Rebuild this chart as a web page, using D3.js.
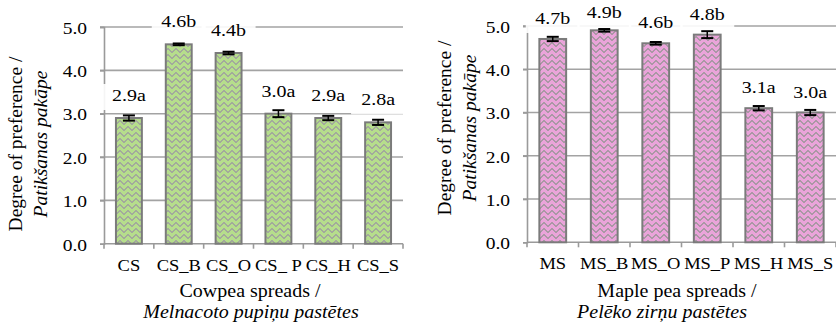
<!DOCTYPE html>
<html>
<head>
<meta charset="utf-8">
<script src="https://cdn.jsdelivr.net/npm/d3@7"></script>
<style>
  html, body { margin: 0; padding: 0; background: #fff; }
  svg text { font-family: "Liberation Serif", "DejaVu Serif", serif; }
</style>
</head>
<body>
<svg id="chart" width="836" height="324"></svg>
<script>
// Cowpea spreads
const cowpeaCategories = ["CS", "CS_B", "CS_O", "CS_ P", "CS_H", "CS_S"];
const cowpeaValues = [2.9, 4.6, 4.4, 3.0, 2.9, 2.8];
const cowpeaErrors = [0.06, 0.02, 0.03, 0.08, 0.05, 0.06];
const cowpeaLetters = ["a", "b", "b", "a", "a", "a"];

// Maple pea spreads
const mapleCategories = ["MS", "MS_B", "MS_O", "MS_P", "MS_H", "MS_S"];
const mapleValues = [4.7, 4.9, 4.6, 4.8, 3.1, 3.0];
const mapleErrors = [0.05, 0.03, 0.03, 0.08, 0.05, 0.06];
const mapleLetters = ["b", "b", "b", "b", "a", "a"];

const yTicks = [0, 1, 2, 3, 4, 5];

const FONT = "Liberation Serif, DejaVu Serif, serif";
const svg = d3.select("#chart").style("font-family", FONT);
const defs = svg.append("defs");

// horizontal text is set slightly condensed in height
function hText(sel, x, y, size, sy, str) {
  return sel.append("text")
    .attr("transform", `translate(${x},${y}) scale(1,${sy})`)
    .attr("font-size", size)
    .attr("text-anchor", "middle")
    .text(str);
}

// pixel zig-zag hatch fill used by the bars
function zigzag(id, bg, ink) {
  const w = 8, h = 6;
  const p = defs.append("pattern")
    .attr("id", id)
    .attr("patternUnits", "userSpaceOnUse")
    .attr("width", w).attr("height", h);
  p.append("rect").attr("width", w).attr("height", h).attr("fill", bg);
  const cells = [];
  for (let c = 0; c < w; c++) {
    const r = c < 4 ? c : 7 - c;
    cells.push([c, r], [c, (r + 1) % h]);
  }
  p.selectAll("rect.px").data(cells).join("rect")
    .attr("class", "px")
    .attr("x", d => d[0]).attr("y", d => d[1])
    .attr("width", 1).attr("height", 1)
    .attr("fill", ink)
    .attr("shape-rendering", "crispEdges");
}
zigzag("hatchGreen", "#b6de8c", "#a3aa9c");
zigzag("hatchPink", "#eaa4da", "#aa98a5");

function drawPanel(cfg) {
  const { categories, values, errors, letters, left, right, top, bottom, fill,
          titleX, titleLines, yTitleY, yTitleX, labelGap } = cfg;
  const g = svg.append("g");

  const x = d3.scaleBand().domain(categories).range([left, right]).paddingInner(0.48).paddingOuter(0.24);
  const xEdge = d3.scaleLinear().domain([0, categories.length]).range([left, right]);
  const y = d3.scaleLinear().domain([0, 5]).range([bottom, top]);

  // horizontal gridlines
  g.append("g").selectAll("line").data(yTicks.filter(t => t > 0)).join("line")
    .attr("x1", left - 4).attr("x2", right)
    .attr("y1", d => y(d)).attr("y2", d => y(d))
    .attr("stroke", "#a3a3a3").attr("stroke-width", 1.6);

  // y axis with labels
  const sy = 0.84;
  const yAxis = d3.axisLeft(y).tickValues(yTicks).tickFormat(d3.format(".1f")).tickSize(4).tickPadding(13);
  const ya = g.append("g").attr("transform", `translate(${left},0)`).call(yAxis);
  ya.attr("font-family", null).style("font-family", FONT);
  ya.select(".domain").attr("stroke", "#9a9a9a").attr("stroke-width", 1.6);
  ya.selectAll(".tick line").attr("stroke", "#9a9a9a").attr("stroke-width", 1.6);
  ya.selectAll(".tick text").attr("fill", "#000").attr("font-size", 19.5)
    .attr("dy", null).attr("y", 6.3 / sy).attr("transform", `scale(1,${sy})`);

  // x axis: category boundary ticks
  g.append("line").attr("x1", left).attr("x2", right).attr("y1", bottom).attr("y2", bottom)
    .attr("stroke", "#9a9a9a").attr("stroke-width", 1.6);
  g.append("g").selectAll("line").data(d3.range(categories.length + 1)).join("line")
    .attr("x1", d => xEdge(d)).attr("x2", d => xEdge(d))
    .attr("y1", bottom).attr("y2", bottom + 5)
    .attr("stroke", "#9a9a9a").attr("stroke-width", 1.6);
  const xl = g.append("g");
  categories.forEach(c => hText(xl, x(c) + x.bandwidth() / 2, bottom + 27, 18.5, 0.92, c));

  // bars
  g.append("g").selectAll("rect").data(values).join("rect")
    .attr("x", (d, i) => x(categories[i]))
    .attr("y", d => y(d))
    .attr("width", x.bandwidth())
    .attr("height", d => y(0) - y(d))
    .attr("fill", `url(#${fill})`)
    .attr("stroke", "#7b7b7b")
    .attr("stroke-width", 2);

  // error bars
  const eb = g.append("g").attr("stroke", "#000");
  values.forEach((v, i) => {
    const cx = x(categories[i]) + x.bandwidth() / 2;
    eb.append("line").attr("x1", cx).attr("x2", cx)
      .attr("y1", y(v - errors[i])).attr("y2", y(v + errors[i])).attr("stroke-width", 1.5);
    [v - errors[i], v + errors[i]].forEach(e => {
      eb.append("line").attr("x1", cx - 6).attr("x2", cx + 6)
        .attr("y1", y(e)).attr("y2", y(e)).attr("stroke-width", 2);
    });
  });

  // value labels with white boxes
  const lab = g.append("g");
  values.forEach((v, i) => {
    const cx = x(categories[i]) + x.bandwidth() / 2;
    const base = Math.max(18, y(v) - labelGap);
    const txt = d3.format(".1f")(v) + letters[i];
    lab.append("rect").attr("x", cx - 27).attr("y", base - 17).attr("width", 54).attr("height", 26)
      .attr("fill", "#fff").attr("fill-opacity", 0.9);
    hText(lab, cx, base, 20, 0.87, txt);
  });

  // x title
  hText(g, titleX[0], 297, 20, 0.9, titleLines[0]);
  hText(g, titleX[1], 318, 20, 0.9, titleLines[1]).attr("font-style", "italic");

  // y title
  g.append("text").attr("transform", `translate(${yTitleX[0]},${yTitleY}) rotate(-90)`)
    .attr("text-anchor", "middle").attr("dy", "0.33em").attr("font-size", 19.5)
    .text("Degree of preference /");
  g.append("text").attr("transform", `translate(${yTitleX[1]},${yTitleY}) rotate(-90)`)
    .attr("text-anchor", "middle").attr("dy", "0.33em").attr("font-size", 19.5)
    .attr("font-style", "italic").text("Patikšanas pakāpe");
}

drawPanel({
  categories: cowpeaCategories, values: cowpeaValues, errors: cowpeaErrors, letters: cowpeaLetters,
  left: 104, right: 403, top: 27, bottom: 243.7, fill: "hatchGreen", labelGap: 17,
  titleX: [250, 251], titleLines: ["Cowpea spreads /", "Melnacoto pupiņu pastētes"],
  yTitleY: 144, yTitleX: [16, 41]
});

drawPanel({
  categories: mapleCategories, values: mapleValues, errors: mapleErrors, letters: mapleLetters,
  left: 527, right: 836, top: 26, bottom: 242.3, fill: "hatchPink", labelGap: 15,
  titleX: [677, 662], titleLines: ["Maple pea spreads /", "Pelēko zirņu pastētes"],
  yTitleY: 128, yTitleX: [445, 470]
});
</script>
</body>
</html>
